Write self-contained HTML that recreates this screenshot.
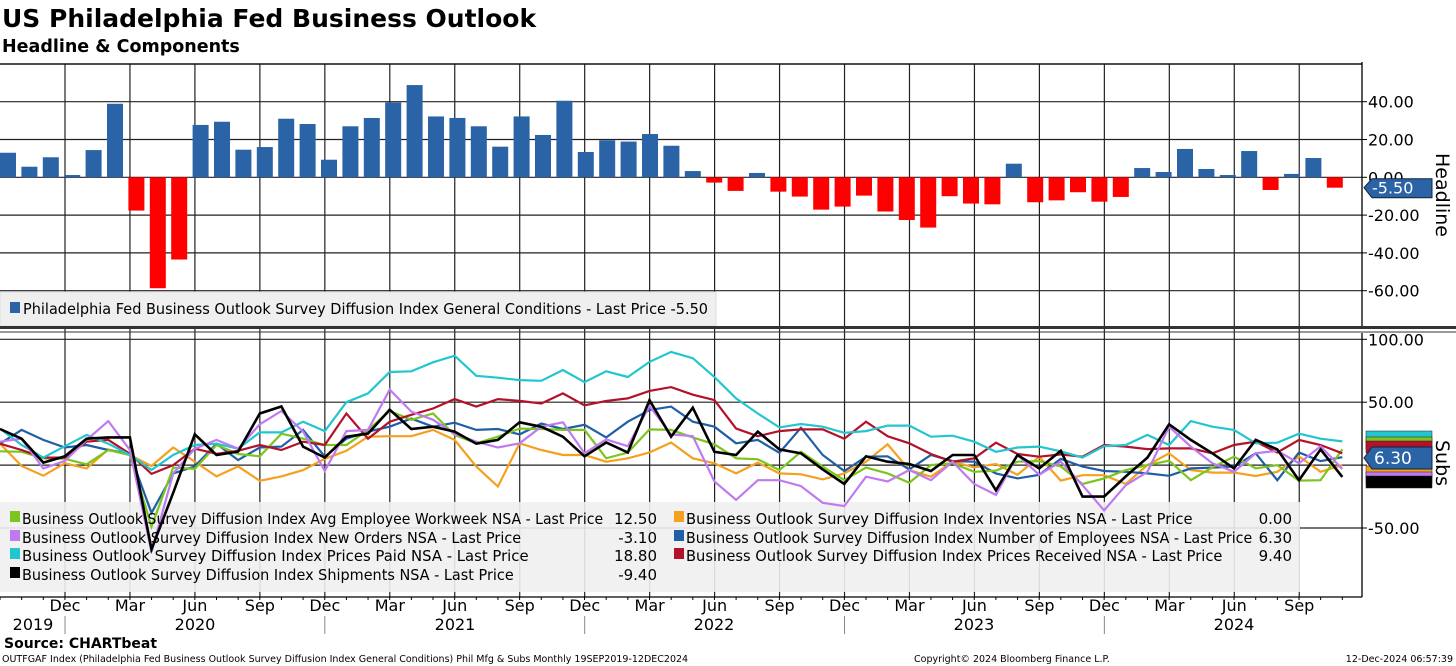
<!DOCTYPE html>
<html><head><meta charset="utf-8"><style>
html,body{margin:0;padding:0;background:#fff;}
svg{display:block;font-family:"DejaVu Sans","Liberation Sans",sans-serif;}
</style></head><body>
<svg id="c" width="1456" height="666" viewBox="0 0 1456 666">
<text x="2" y="27" font-size="25" font-weight="bold">US Philadelphia Fed Business Outlook</text>
<text x="2" y="52" font-size="17.5" font-weight="bold">Headline &amp; Components</text>
<g id="grid"></g>
<g id="bars"></g>
<g id="lines"></g>
<g id="chrome"></g>
</svg>
<script>
const headline=[13.0,5.6,10.6,1.2,14.4,38.9,-17.6,-58.7,-43.5,27.7,29.4,14.6,16.0,31.0,28.2,9.3,27.0,31.4,39.6,48.8,32.2,31.4,27.0,16.2,32.2,22.4,40.5,13.4,19.6,18.9,22.9,16.7,3.3,-2.8,-7.2,2.3,-7.6,-10.2,-17.1,-15.5,-9.7,-18.1,-22.6,-26.6,-10.0,-13.9,-14.3,7.2,-13.2,-12.2,-7.9,-12.9,-10.4,4.9,2.8,15.0,4.4,1.2,13.9,-6.7,1.8,10.2,-5.5];
const workweek=[11,10.6,5.4,5,0.6,12,8,-49,-2,-3,16,8.8,7,25,21,16,16,28,43,36,41,24,17.3,22.6,29,28.7,28,28,5.4,10,28.4,28,22,16.5,5.4,4.6,-4,10.6,-1.2,-12,-2,-6.6,-14,0,1.4,-5.3,-4.4,2.7,3.2,-1,-15,-10.6,-4,0,3.5,-12,-1.8,6.7,-2.6,0,-12.3,-12,12.5];
const newOrders=[18.6,21,-2.6,3.3,20,35,12,-69,-6.6,13,20,13,32.4,43,26.6,-4.7,27,28,60,42.5,36,25,18.6,14,17.3,30.5,34,9.4,20.4,15,47,24.4,23,-13,-27.7,-12,-12,-16.7,-30,-32.6,-9.2,-13,-3.9,-12,2.7,-15,-23.7,8,-7.7,2.7,-16,-36,-16,-5.3,30.5,14.7,1.4,-5.3,9.4,11.4,1.4,15,-3.1];
const pricesPaid=[29,16,6,15,24,17,8,-3.8,8,16,17,13,26,26,34.5,27,50,57,74,74.6,81.7,87,71,69.5,67.6,67,75.6,66,74.6,70,82,90,85,70,53,41,30,32.7,30.5,25.7,27,31.4,31.4,22.6,23.4,18.6,10.6,14,14.7,11,6,15,16,24,16,35,30.5,28,17.3,17.8,25,21,18.8];
const pricesReceived=[17,12,6,6,18.6,20,9,-7,0,13,9,11.4,16,12,18.6,16,41,21,34.5,40,45,52.5,46.5,52.5,51,49,57,47.5,51,53,59,62,56,51.7,29,23,27,28.4,28.4,21,34.5,23,17.3,8.8,2.7,5.4,17.8,8.8,6.7,8.5,6.7,16,14.7,12.7,13.3,13.3,9.4,16,18.6,10,20,16,9.4];
const shipments=[28.7,21,2,7,21,22,22,-67,-22,24.5,8,10.7,41,46.6,14.7,6,22.6,25,44,28.7,30.5,26.6,17,20,34,30.5,22.6,7,18,10,51.7,22.6,45.6,10.6,8,26.6,12.5,9.4,-3.4,-15,7,2.7,0.9,-4.7,8,8,-20,8,-2.6,11.4,-25,-25,-9,6,32.4,20,9.4,-2.6,20,12.5,-12,12.5,-9.4];
const employees=[17,28,20,14,16,12,9,-38,-6.6,-1,17,4,14,14.7,28,6.7,21,26.6,30.5,37,30.5,33.7,28,28.7,24.4,33,28.7,32,22,34.5,43.8,46.5,34.5,30.5,17.3,20,9.8,29.7,8,-4.7,6.7,7,-3.4,8,3.2,2.7,-6.6,-10.6,-7.7,5,-1.2,-4.7,-5.3,-6.6,-8.5,-2.6,-2,-1.2,9.4,-12,10,3.2,6.3];
const inventories=[17,-0.7,-8.4,1.4,-2.6,12.5,8,-0.7,14,2.7,-9,-1,-12.5,-9,-4,5,11.4,22.6,23,23,28,20,-1.2,-17,17.3,12,8,8,2.7,5.4,10,18,5.4,1.4,-6.6,2,-6.6,-7.3,-11.4,-6.6,2.7,16.5,-3.9,-9.2,2.7,-1.8,0.9,-7.7,6.7,-12.3,-8,-8,-15,0,9.4,-4,-6,-6,-8.7,-5.3,7,-5.3,0];
const topTicks=[40,20,0,-20,-40,-60];
const botTicks=[100,50,0,-50];
const monthLabels=["Dec","Mar","Jun","Sep","Dec","Mar","Jun","Sep","Dec","Mar","Jun","Sep","Dec","Mar","Jun","Sep","Dec","Mar","Jun","Sep"];
const yearLabels=["2019","2020","2021","2022","2023","2024"];

const NS="http://www.w3.org/2000/svg";
function mk(p,t,a){const e=document.createElementNS(NS,t);for(const k in a)e.setAttribute(k,a[k]);p.appendChild(e);return e;}
const yTop=v=>177.3-v*1.89;
const yBot=v=>465.1-v*1.258;
const xBar=i=>21.4*i;
const xLine=i=>21.65*i;
const xGrid=k=>65+64.96*k;
const AX=1362;
const grid=document.getElementById('grid'),bars=document.getElementById('bars'),lines=document.getElementById('lines'),chrome=document.getElementById('chrome');

for(let k=0;k<monthLabels.length;k++){
  const l=mk(grid,'line',{x1:xGrid(k),x2:xGrid(k),y1:64,y2:597,stroke:'#222','stroke-width':1.2});
  
  
}
mk(grid,'line',{x1:0,x2:AX,y1:64,y2:64,stroke:'#111','stroke-width':1.5});
topTicks.forEach(v=>{
  const l=mk(grid,'line',{x1:0,x2:AX,y1:yTop(v),y2:yTop(v),stroke:'#222','stroke-width':1.2});
  
  
  const t=mk(chrome,'text',{x:1368,y:yTop(v)+6,'font-size':16});
  t.textContent=v.toFixed(2);
  
  
  mk(chrome,'line',{x1:AX,x2:AX+5,y1:yTop(v),y2:yTop(v),stroke:'#000'});
});
botTicks.forEach(v=>{
  const l=mk(grid,'line',{x1:0,x2:AX,y1:yBot(v),y2:yBot(v),stroke:'#222','stroke-width':1.2});
  
  
  const t=mk(chrome,'text',{x:1368,y:yBot(v)+6,'font-size':16});
  t.textContent=v.toFixed(2);
  
  
  mk(chrome,'line',{x1:AX,x2:AX+5,y1:yBot(v),y2:yBot(v),stroke:'#000'});
});
headline.forEach((v,i)=>{
  const y0=yTop(0),y1=yTop(v);
  const r=mk(bars,'rect',{x:xBar(i),y:Math.min(y0,y1),width:16,height:Math.max(1,Math.abs(y1-y0)),fill:v>=0?'#2a64a6':'#ff0000'});
  
  
});
const tl=mk(chrome,'rect',{x:0,y:292,width:716,height:34,fill:'#efefef',stroke:'#ddd'});


mk(chrome,'rect',{x:10,y:302,width:10,height:11,fill:'#2a64a6'});
const tlt=mk(chrome,'text',{x:23,y:314,'font-size':15,textLength:685,lengthAdjust:'spacingAndGlyphs'});
tlt.textContent='Philadelphia Fed Business Outlook Survey Diffusion Index General Conditions - Last Price -5.50';


mk(chrome,'rect',{x:0,y:326,width:1456,height:3,fill:'#333'});
mk(chrome,'line',{x1:0,x2:1456,y1:332,y2:332,stroke:'#333'});
const bl=mk(lines,'rect',{x:0,y:502,width:1300,height:90,fill:'#efefef','fill-opacity':0.9});


const series=[
 [inventories,'#f5a01e','inventories-line'],
 [employees,'#1f5fa5','employees-line'],
 [workweek,'#7cc51e','workweek-line'],
 [pricesReceived,'#b3122a','prices-received-line'],
 [pricesPaid,'#22c6cf','prices-paid-line'],
 [newOrders,'#c07af0','new-orders-line'],
 [shipments,'#000000','shipments-line']];
series.forEach(s=>{
  const pts=s[0].map((v,i)=>xLine(i).toFixed(1)+','+yBot(v).toFixed(1)).join(' ');
  const p=mk(lines,'polyline',{points:pts,fill:'none',stroke:s[1],'stroke-width':s[2]==='shipments-line'?2.6:2.2,'stroke-linejoin':'miter'});
  
  
});
const leg=[
 [10,523,'#7cc51e','Business Outlook Survey Diffusion Index Avg Employee Workweek NSA - Last Price','12.50',657,'legend-workweek'],
 [10,542,'#c07af0','Business Outlook Survey Diffusion Index New Orders NSA - Last Price','-3.10',657,'legend-new-orders'],
 [10,560,'#22c6cf','Business Outlook Survey Diffusion Index Prices Paid NSA - Last Price','18.80',657,'legend-prices-paid'],
 [10,579,'#000','Business Outlook Survey Diffusion Index Shipments NSA - Last Price','-9.40',657,'legend-shipments'],
 [674,523,'#f5a01e','Business Outlook Survey Diffusion Index Inventories NSA - Last Price','0.00',1292,'legend-inventories'],
 [674,542,'#1f5fa5','Business Outlook Survey Diffusion Index Number of Employees NSA - Last Price','6.30',1292,'legend-employees'],
 [674,560,'#b3122a','Business Outlook Survey Diffusion Index Prices Received NSA - Last Price','9.40',1292,'legend-prices-received']];
leg.forEach(l=>{
  mk(lines,'rect',{x:l[0],y:l[1]-12,width:10,height:11,fill:l[2]});
  const w=l[3].length*7.45;
  const t=mk(lines,'text',{x:l[0]+12,y:l[1]+1,'font-size':15,textLength:w,lengthAdjust:'spacingAndGlyphs'});
  t.textContent=l[3];
  
  
  const vt=mk(lines,'text',{x:l[5],y:l[1]+1,'font-size':15,'text-anchor':'end'});
  vt.textContent=l[4];
  
  
});
mk(chrome,'line',{x1:AX,x2:AX,y1:62,y2:326,stroke:'#000','stroke-width':1.3});
mk(chrome,'line',{x1:AX,x2:AX,y1:333,y2:597,stroke:'#000','stroke-width':1.3});
mk(chrome,'line',{x1:0,x2:AX,y1:597,y2:597,stroke:'#000','stroke-width':1.3});
for(let i=0;i<63;i++)mk(chrome,'line',{x1:xLine(i),x2:xLine(i),y1:597,y2:600,stroke:'#000'});
const ht=mk(chrome,'g',{});


const hy=yTop(-5.5);
mk(ht,'polygon',{points:`${AX+2},${hy} ${AX+10},${hy-9} 1432,${hy-9} 1432,${hy+10} ${AX+10},${hy+10}`,fill:'#2a64a6',stroke:'#123'});
const htt=mk(ht,'text',{x:1372,y:hy+6,'font-size':16,fill:'#fff'});htt.textContent='-5.50';
const tags=[['#22c6cf',431],['#7cc51e',437],['#b3122a',441],['#f5a01e',466],['#c07af0',472],['#000',476]];
tags.forEach(t=>{mk(chrome,'rect',{x:1366,y:t[1],width:66,height:12,fill:t[0],stroke:'#222','stroke-width':0.5});});
const st=mk(chrome,'g',{});


mk(st,'polygon',{points:`1364,458 1372,447 1432,447 1432,469 1372,469`,fill:'#2a64a6',stroke:'#123'});
const stt=mk(st,'text',{x:1374,y:464,'font-size':17,fill:'#fff'});stt.textContent='6.30';
const a1=mk(chrome,'text',{x:0,y:0,'font-size':19,transform:'translate(1436,195) rotate(90)','text-anchor':'middle'});
a1.textContent='Headline';
const a2=mk(chrome,'text',{x:0,y:0,'font-size':19,transform:'translate(1436,463) rotate(90)','text-anchor':'middle'});
a2.textContent='Subs';
monthLabels.forEach((m,k)=>{
  const t=mk(chrome,'text',{x:xGrid(k),y:611,'font-size':16,'text-anchor':'middle'});
  t.textContent=m;
  
  
});
const yearX=[33,195,455,714,974,1234];
yearLabels.forEach((y,k)=>{
  const t=mk(chrome,'text',{x:yearX[k],y:630,'font-size':16,'text-anchor':'middle'});
  t.textContent=y;
  
  
});
[0,4,8,12,16].forEach(k=>mk(chrome,'line',{x1:xGrid(k),x2:xGrid(k),y1:616,y2:634,stroke:'#888'}));
const src=mk(chrome,'text',{x:4,y:648,'font-size':14,'font-weight':'bold'});
src.textContent='Source: CHARTbeat';
const f1=mk(chrome,'text',{x:2,y:662,'font-size':9.5});
f1.textContent='OUTFGAF Index (Philadelphia Fed Business Outlook Survey Diffusion Index General Conditions) Phil Mfg & Subs  Monthly 19SEP2019-12DEC2024';

const f2=mk(chrome,'text',{x:914,y:662,'font-size':9.5});
f2.textContent='Copyright© 2024 Bloomberg Finance L.P.';
const f3=mk(chrome,'text',{x:1453,y:662,'font-size':9.5,'text-anchor':'end'});
f3.textContent='12-Dec-2024 06:57:39';
</script>
</body></html>
